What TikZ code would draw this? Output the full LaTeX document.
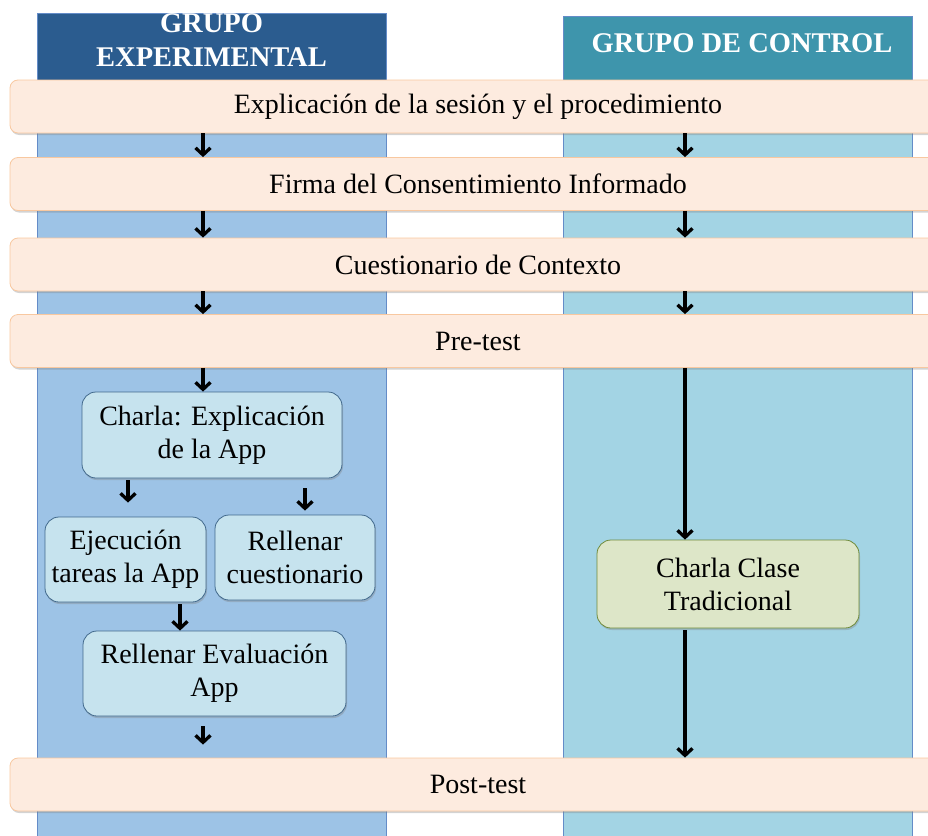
\documentclass[tikz,border=0pt]{standalone}
\usepackage{fontspec}
\setmainfont{Liberation Serif}
\usetikzlibrary{arrows.meta,positioning,shadows}
\definecolor{expdark}{RGB}{43,92,143}
\definecolor{explight}{RGB}{157,195,230}
\definecolor{ctldark}{RGB}{62,149,172}
\definecolor{ctllight}{RGB}{163,212,228}
\definecolor{colline}{RGB}{100,140,200}
\definecolor{barfill}{RGB}{253,235,223}
\definecolor{barline}{RGB}{248,200,160}
\definecolor{taskfill}{RGB}{198,227,238}
\definecolor{taskline}{RGB}{65,105,140}
\definecolor{talkfill}{RGB}{221,230,200}
\definecolor{talkline}{RGB}{111,138,58}
\tikzset{
  stagebar/.style={
    draw=barline,
    line width=0.8pt,
    rounded corners=8pt,
    fill=barfill,
    minimum width=936pt,
    minimum height=53pt,
    drop shadow={shadow xshift=1pt,shadow yshift=-2pt,opacity=0.35},
    font=\fontsize{28}{33}\selectfont
  },
  taskbox/.style={
    draw=taskline,
    line width=0.8pt,
    rounded corners=14pt,
    fill=taskfill,
    align=center,
    inner sep=1pt,
    drop shadow={shadow xshift=1pt,shadow yshift=-2pt,opacity=0.35},
    font=\fontsize{28}{33}\selectfont
  },
  talkbox/.style={
    taskbox,
    draw=talkline,
    fill=talkfill
  },
  headtext/.style={
    text=white,
    align=center,
    font=\fontsize{28.5}{34}\selectfont\bfseries
  },
  flow/.style={draw, -{Straight Barb[length=7pt,width=15pt]}, line width=3.3pt}
}
\begin{document}
\begin{tikzpicture}[x=1pt,y=-1pt]
  \useasboundingbox (0,0) rectangle (928,835);

  % columns
  \fill[explight] (37,80) rectangle (386,845);
  \fill[expdark] (37,13) rectangle (386,82);
  \draw[colline, line width=0.6pt] (37,845) -- (37,13) -- (386,13) -- (386,845);
  \fill[ctllight] (563,80) rectangle (912,845);
  \fill[ctldark] (563,16) rectangle (912,82);
  \draw[colline, line width=0.6pt] (563,845) -- (563,16) -- (912,16) -- (912,845);

  \node[headtext] (exphead) at (211.5,40) {GRUPO\\EXPERIMENTAL};
  \node[headtext] (ctlhead) at (742,43) {GRUPO DE CONTROL};

  % shared stages
  \node[stagebar] (session) at (478,106.5) {Explicación de la sesión y el procedimiento};
  \node[stagebar] (consent) at (478,184) {Firma del Consentimiento Informado};
  \node[stagebar] (context) at (478,264.5) {Cuestionario de Contexto};
  \node[stagebar] (pretest) at (478,341) {Pre-test};
  \node[stagebar] (posttest) at (478,784.5) {Post-test};

  % experimental group
  \node[taskbox, minimum width=260pt, minimum height=86pt] (talkapp) at (212,435) {Charla: Explicación\\de la App};
  \node[taskbox, minimum width=161pt, minimum height=85pt] (tasks) at (125.5,559.5) {Ejecución\\tareas la App};
  \node[taskbox, minimum width=160pt, minimum height=85pt] (survey) at (295,557.5) {Rellenar\\cuestionario};
  \node[taskbox, minimum width=263pt, minimum height=85pt] (evalapp) at (214.5,673.5) {Rellenar Evaluación\\App};

  % control group
  \node[talkbox, minimum width=262pt, minimum height=88pt] (classtalk) at (728,584) {Charla Clase\\Tradicional};

  % lanes
  \coordinate (lanel) at (203,0);
  \coordinate (laner) at (685,0);
  \coordinate (lanea) at (128,0);
  \coordinate (laneb) at (305,0);
  \coordinate (lanec) at (180,0);

  \path[flow] (session.south -| lanel) -- (consent.north -| lanel);
  \path[flow] (consent.south -| lanel) -- (context.north -| lanel);
  \path[flow] (context.south -| lanel) -- (pretest.north -| lanel);
  \path[flow] (pretest.south -| lanel) -- (talkapp.north -| lanel);
  \path[flow, shorten <=2pt, shorten >=14pt] (talkapp.south -| lanea) -- (tasks.north -| lanea);
  \path[flow, shorten <=10pt, shorten >=4pt] (talkapp.south -| laneb) -- (survey.north -| laneb);
  \path[flow, shorten <=2pt] (tasks.south -| lanec) -- (evalapp.north -| lanec);
  \path[flow, shorten <=10pt, shorten >=13pt] (evalapp.south -| lanel) -- (posttest.north -| lanel);

  \path[flow] (session.south -| laner) -- (consent.north -| laner);
  \path[flow] (consent.south -| laner) -- (context.north -| laner);
  \path[flow] (context.south -| laner) -- (pretest.north -| laner);
  \path[flow] (pretest.south -| laner) -- (classtalk.north -| laner);
  \path[flow, shorten <=2pt] (classtalk.south -| laner) -- (posttest.north -| laner);
\end{tikzpicture}
\end{document}
